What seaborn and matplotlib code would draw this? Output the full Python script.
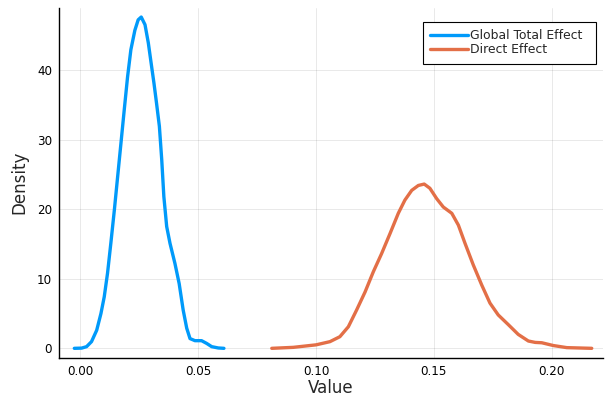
import numpy as np
import pandas as pd
import matplotlib
matplotlib.use("Agg")
import matplotlib.pyplot as plt
import seaborn as sns

# Density curve points
global_x = [-0.0026, 0.0005, 0.0026, 0.0047, 0.0069, 0.0087, 0.0101, 0.0115, 0.0129,
            0.0144, 0.0158, 0.0172, 0.0186, 0.0200, 0.0214, 0.0231, 0.0245, 0.0258,
            0.0274, 0.0288, 0.0302, 0.0312, 0.0323, 0.0335, 0.0345, 0.0354, 0.0366,
            0.0380, 0.0401, 0.0419, 0.0436, 0.0451, 0.0465, 0.0486, 0.0514, 0.0536,
            0.0557, 0.0585, 0.0609]
global_y = [0.0, 0.03, 0.24, 0.96, 2.6, 5.0, 7.4, 10.8, 15.1,
            19.9, 24.7, 29.5, 34.3, 39.0, 42.9, 45.7, 47.2, 47.6,
            46.5, 43.9, 40.5, 38.1, 35.2, 31.9, 27.1, 21.8, 17.5,
            15.1, 12.2, 9.3, 5.5, 2.9, 1.4, 1.1, 1.1, 0.7,
            0.24, 0.05, 0.0]

direct_x = [0.0812, 0.0903, 0.1000, 0.1059, 0.1101, 0.1137, 0.1172, 0.1208, 0.1243,
            0.1278, 0.1314, 0.1349, 0.1377, 0.1406, 0.1434, 0.1459, 0.1483, 0.1512,
            0.1540, 0.1576, 0.1604, 0.1632, 0.1667, 0.1703, 0.1738, 0.1773, 0.1816,
            0.1858, 0.1901, 0.1930, 0.1958, 0.2007, 0.2064, 0.2170]
direct_y = [0.0, 0.14, 0.5, 0.96, 1.67, 3.1, 5.5, 8.1, 11.0,
            13.6, 16.5, 19.4, 21.3, 22.7, 23.4, 23.6, 23.0, 21.5,
            20.3, 19.4, 17.7, 15.1, 12.0, 9.1, 6.5, 4.8, 3.4,
            2.0, 1.05, 0.85, 0.8, 0.4, 0.1, 0.0]

series_names = ["Global Total Effect", "Direct Effect"]
x_ticks = [0.00, 0.05, 0.10, 0.15, 0.20]
x_tick_labels = ["0.00", "0.05", "0.10", "0.15", "0.20"]
y_ticks = [0, 10, 20, 30, 40]

df = pd.concat([
    pd.DataFrame({"Value": global_x, "Density": global_y, "Series": series_names[0]}),
    pd.DataFrame({"Value": direct_x, "Density": direct_y, "Series": series_names[1]}),
], ignore_index=True)

sns.set_style("white")
plt.rcParams['font.family'] = ['DejaVu Sans']

fig = plt.figure(figsize=(6.05, 3.96), dpi=100)
ax_left, ax_right, ax_top, ax_bottom = 59, 603, 7.5, 358
ax_w, ax_h = ax_right - ax_left, ax_bottom - ax_top
ax = fig.add_axes([ax_left/605, 1 - ax_bottom/396, ax_w/605, ax_h/396])

palette = {series_names[0]: "#009AFA", series_names[1]: "#E36F47"}
sns.lineplot(data=df, x="Value", y="Density", hue="Series", palette=palette,
             estimator=None, sort=False, linewidth=2.4, ax=ax)
for line in ax.get_lines():
    line.set_solid_joinstyle("round")
    line.set_solid_capstyle("round")

ax.set_xlim(-0.0091, (603 - 80.5) / 2356)
ax.set_ylim(-1.39, 48.97)
ax.set_xticks(x_ticks)
ax.set_xticklabels(x_tick_labels)
ax.set_yticks(y_ticks)

ax.grid(True, color="black", alpha=0.1, linewidth=0.6)
for s in ["top", "right"]:
    ax.spines[s].set_visible(False)
for s in ["left", "bottom"]:
    ax.spines[s].set_color("black")
    ax.spines[s].set_linewidth(1.0)

ax.tick_params(axis="both", direction="in", length=3, width=0.8, labelsize=8.6, color="black",
               labelcolor="black", pad=5)
ax.set_xlabel("Value", fontsize=12, labelpad=1)
ax.set_ylabel("Density", fontsize=12, labelpad=6)

lx0, lx1, ly0, ly1 = 422.5, 596, 21.7, 63
leg = ax.legend(loc="upper left", mode="expand", fontsize=8.9, frameon=True, fancybox=False,
                edgecolor="black", framealpha=1, borderpad=0.6, handlelength=3.06,
                handletextpad=0.22, labelspacing=0.08, borderaxespad=0,
                bbox_to_anchor=((lx0 - ax_left) / ax_w, 1 - (ly1 - ax_top) / ax_h,
                                (lx1 - lx0) / ax_w, (ly1 - ly0) / ax_h))
leg.get_frame().set_linewidth(0.8)
for line in leg.get_lines():
    line.set_linewidth(2.4)

fig.savefig("out.png", dpi=100)
